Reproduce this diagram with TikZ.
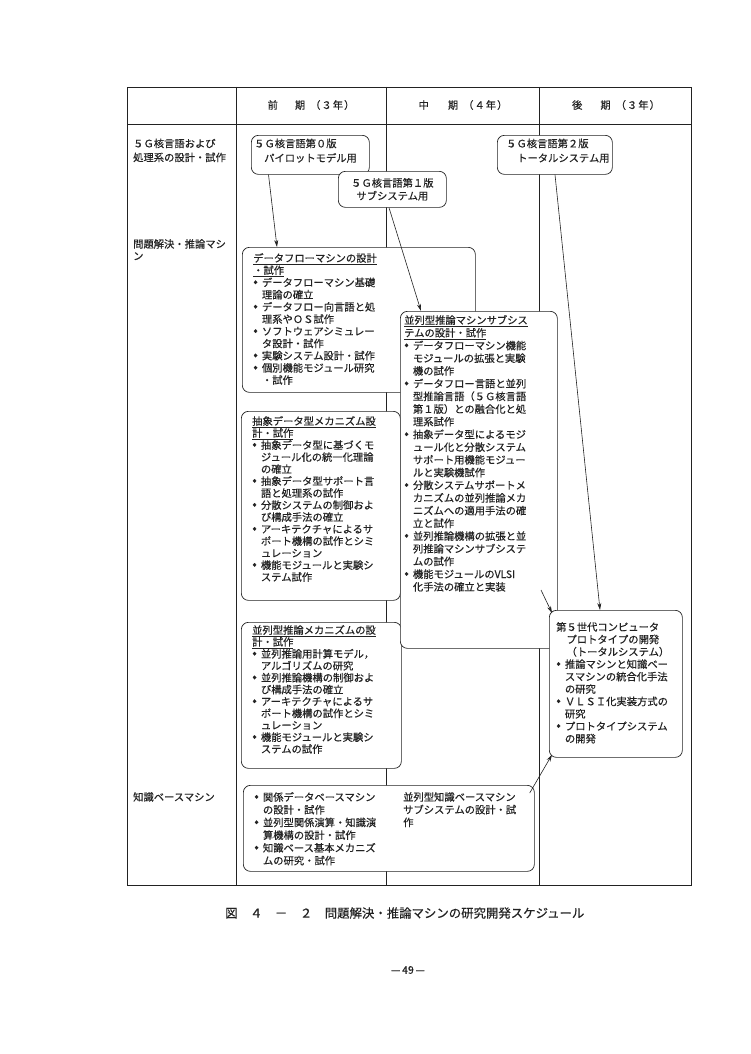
\documentclass[tikz,border=0pt]{standalone}
\usepackage{fontspec}
\setmainfont{Noto Sans CJK JP}[FakeBold=0.4]
\usetikzlibrary{arrows.meta,calc}
\definecolor{ink}{HTML}{222222}
\newcommand\myb{\makebox[0.85em][l]{\scalebox{1.35}{•}}}
\newcommand\myi{\hspace*{0.85em}}
\begin{document}
\begin{tikzpicture}[x=1pt,y=-1pt,
  rbox/.style={draw=ink, fill=white, rounded corners=7pt, line width=0.7pt, anchor=north west, inner sep=0pt},
  txt/.style={anchor=north west, inner sep=0pt, align=left, text=ink},
  fs/.style={font={\fontsize{10.3}{#1}\selectfont}},
  arr/.style={draw=ink, line width=0.6pt, -{Stealth[length=7pt,width=4pt]}},
  gridl/.style={draw=ink, line width=0.7pt}]
\fill[white] (0,0) rectangle (750,1054);
% table
\draw[gridl] (127,87) rectangle (691,885);
\draw[gridl] (127,124) -- (691,124);
\draw[gridl] (236,87) -- (236,885);
\draw[gridl] (386,87) -- (386,885);
\draw[gridl] (539,87) -- (539,885);
% headers
\node[txt, fs=12, anchor=center] (h1) at (311,105) {前\hspace{17pt}期\hspace{5pt}（\hspace{1pt}３\hspace{1pt}年\hspace{1pt}）};
\node[txt, fs=12, anchor=center] (h2) at (463,105) {中\hspace{19pt}期\hspace{5pt}（\hspace{1pt}４\hspace{1pt}年\hspace{1pt}）};
\node[txt, fs=12, anchor=center] (h3) at (616,105) {後\hspace{18pt}期\hspace{5pt}（\hspace{1pt}３\hspace{1pt}年\hspace{1pt}）};
% row labels
\node[txt, fs=14] (l1) at (133,138.5) {５Ｇ核言語および\\処理系の設計・試作};
\node[txt, fs=12] (l2) at (133,239) {問題解決・推論マシ\\ン};
\node[txt, fs=12] (l3) at (133,792) {知識ベースマシン};
% language boxes
\node[rbox, minimum width=118pt, minimum height=39pt] (b0) at (251,135) {};
\node[txt, fs=14.5] (t0) at (254,138.5) {５Ｇ核言語第０版\\\hspace*{10pt}パイロットモデル用};
\node[rbox, minimum width=108pt, minimum height=36pt] (b1) at (338,171) {};
\node[txt, fs=13, align=center, anchor=center] (t1) at (b1.center) {５Ｇ核言語第１版\\サブシステム用};
\node[rbox, minimum width=115pt, minimum height=39pt] (b2) at (497,135) {};
\node[txt, fs=14.5] (t2) at (506,138.5) {５Ｇ核言語第２版\\\hspace*{11pt}トータルシステム用};
% data flow machine box
\node[rbox, minimum width=233pt, minimum height=145pt] (df) at (242,247) {};
\node[txt, fs=12.2] (tdf) at (253,253) {\underline{データフローマシンの設計}\\\underline{・試作}\\
\myb データフローマシン基礎\\\myi 理論の確立\\
\myb データフロー向言語と処\\\myi 理系やＯＳ試作\\
\myb ソフトウェアシミュレー\\\myi タ設計・試作\\
\myb 実験システム設計・試作\\
\myb 個別機能モジュール研究\\\myi ・試作};
% abstract data type box
\node[rbox, minimum width=159pt, minimum height=189pt] (ab) at (241,411) {};
\node[txt, fs=12] (tab) at (252,416) {\underline{抽象データ型メカニズム設}\\\underline{計・試作}\\
\myb 抽象データ型に基づくモ\\\myi ジュール化の統一化理論\\\myi の確立\\
\myb 抽象データ型サポート言\\\myi 語と処理系の試作\\
\myb 分散システムの制御およ\\\myi び構成手法の確立\\
\myb アーキテクチャによるサ\\\myi ポート機構の試作とシミ\\\myi ュレーション\\
\myb 機能モジュールと実験シ\\\myi ステム試作};
% parallel inference mechanism box
\node[rbox, minimum width=160pt, minimum height=146pt] (pm) at (241,622) {};
\node[txt, fs=11.9] (tpm) at (252,625) {\underline{並列型推論メカニズムの設}\\\underline{計・試作}\\
\myb 並列推論用計算モデル，\\\myi アルゴリズムの研究\\
\myb 並列推論機構の制御およ\\\myi び構成手法の確立\\
\myb アーキテクチャによるサ\\\myi ポート機構の試作とシミ\\\myi ュレーション\\
\myb 機能モジュールと実験シ\\\myi ステムの試作};
% parallel inference machine subsystem box
\node[rbox, minimum width=157pt, minimum height=337pt] (ps) at (400,311) {};
\node[txt, fs=12.7] (tps) at (404,315) {\underline{並列型推論マシンサブシス}\\\underline{テムの設計・試作}\\
\myb データフローマシン機能\\\myi モジュールの拡張と実験\\\myi 機の試作\\
\myb データフロー言語と並列\\\myi 型推論言語（５Ｇ核言語\\\myi 第１版）との融合化と処\\\myi 理系試作\\
\myb 抽象データ型によるモジ\\\myi ュール化と分散システム\\\myi サポート用機能モジュー\\\myi ルと実験機試作\\
\myb 分散システムサポートメ\\\myi カニズムの並列推論メカ\\\myi ニズムへの適用手法の確\\\myi 立と試作\\
\myb 並列推論機構の拡張と並\\\myi 列推論マシンサブシステ\\\myi ムの試作\\
\myb 機能モジュールのVLSI\\\myi 化手法の確立と実装};
% knowledge base box
\node[rbox, minimum width=291pt, minimum height=86pt] (kb) at (243,785) {};
\node[txt, fs=12.7] (tkb) at (254,792) {\myb 関係データベースマシン\\\myi の設計・試作\\
\myb 並列型関係演算・知識演\\\myi 算機構の設計・試作\\
\myb 知識ベース基本メカニズ\\\myi ムの研究・試作};
\node[txt, fs=12.7] (tkb2) at (403,792) {並列型知識ベースマシン\\サブシステムの設計・試\\作};
% fifth generation box
\node[rbox, minimum width=133pt, minimum height=147pt] (g5) at (549,610) {};
\node[txt, fs=12.4] (tg5) at (556,622) {第５世代コンピュータ\\\hspace*{1em}プロトタイプの開発\\\hspace*{1em}（トータルシステム）\\
\myb 推論マシンと知識ベー\\\myi スマシンの統合化手法\\\myi の研究\\
\myb ＶＬＳＩ化実装方式の\\\myi 研究\\
\myb プロトタイプシステム\\\myi の開発};
% connectors
\coordinate (a0s) at ($(b0.south west)+(17.5,0)$);
\coordinate (a0e) at ($(df.north west)+(35,0)$);
\coordinate (a1s) at ($(b1.south west)+(51,0)$);
\coordinate (a1e) at ($(ps.north west)+(21,0)$);
\coordinate (a2s) at ($(b2.south west)+(58,0)$);
\coordinate (a2e) at ($(g5.north west)+(51,0)$);
\coordinate (a3s) at (541,590);
\coordinate (a3e) at ($(g5.north west)+(3,3)$);
\coordinate (a4s) at ($(kb.north east)+(-5,8)$);
\coordinate (a4e) at ($(g5.south west)+(3,-3)$);
\draw[arr] (a0s) -- (a0e);
\draw[arr] (a1s) -- (a1e);
\draw[arr] (a2s) -- (a2e);
\draw[arr] (a3s) -- (a3e);
\draw[arr] (a4s) -- (a4e);
% caption
\node[anchor=west, inner sep=0pt, text=ink, font=\fontsize{12.4}{14}\selectfont] (cap) at (225,913) {図\hspace{12.5pt}４\hspace{12.5pt}－\hspace{12.5pt}２\hspace{12.5pt}問題解決・推論マシンの研究開発スケジュール};
\node[inner sep=0pt, text=ink, font=\fontsize{10.5}{12}\selectfont] (pg) at (408,970) {—\,49\,—};
\end{tikzpicture}
\end{document}
